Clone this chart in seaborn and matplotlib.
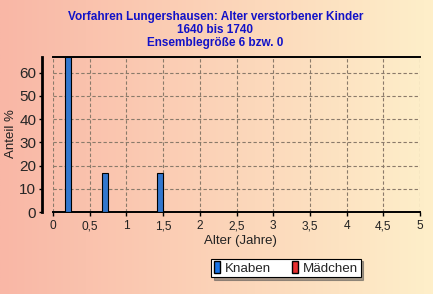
import numpy as np
import pandas as pd
import matplotlib
matplotlib.use("Agg")
import matplotlib.pyplot as plt
import seaborn as sns
from matplotlib.patches import Patch

# Data
ages = [2.5 / 12, 8.5 / 12, 17.5 / 12]
knaben = [66.67, 16.67, 16.67]
maedchen = [0.0, 0.0, 0.0]
x_ticks = [0, 0.5, 1, 1.5, 2, 2.5, 3, 3.5, 4, 4.5, 5]
x_ticklabels = ["0", "0,5", "1", "1,5", "2", "2,5", "3", "3,5", "4", "4,5", "5"]
y_ticks = [0, 10, 20, 30, 40, 50, 60]
title_lines = ["Vorfahren Lungershausen: Alter verstorbener Kinder",
               "1640 bis 1740",
               "Ensemblegröße 6 bzw. 0"]

sns.set_theme(style="white")
plt.rcParams['font.family'] = ['Liberation Sans', 'DejaVu Sans']

fig = plt.figure(figsize=(4.33, 2.94), dpi=100)

# gradient background
bg = fig.add_axes([0, 0, 1, 1], zorder=-10)
bg.axis("off")
nx, ny = 200, 100
xx = np.linspace(0, 1, nx)[None, :]
yy = np.linspace(0, 1, ny)[:, None]
t = np.clip(0.85 * xx + 0.0 * yy, 0, 1)
left = np.array([249, 183, 166]) / 255
right = np.array([255, 249, 208]) / 255
img = left[None, None, :] * (1 - t[..., None]) + right[None, None, :] * t[..., None]
bg.imshow(img, aspect="auto", extent=[0, 1, 0, 1])
bg.set_xlim(0, 1); bg.set_ylim(0, 1)

ax = fig.add_axes([53 / 433, 1 - 212 / 294, (420 - 53) / 433, (212 - 57) / 294])
ax.patch.set_alpha(0)

df = pd.DataFrame({"Alter": ages * 2,
                   "Anteil": knaben + maedchen,
                   "Geschlecht": ["Knaben"] * 3 + ["Mädchen"] * 3})
sns.barplot(data=df, x="Alter", y="Anteil", hue="Geschlecht", native_scale=True,
            dodge=False, width=1 / 6,
            palette={"Knaben": "#1874E8", "Mädchen": "#E83030"},
            edgecolor="black", linewidth=0.8, ax=ax, legend=False, zorder=3)

ax.set_xlim(0, 5)
ax.set_ylim(0, 66.67)
ax.set_xticks(x_ticks)
ax.set_xticklabels(x_ticklabels, fontsize=8.6, color="#222222")
ax.set_yticks(y_ticks)
ax.set_yticklabels([str(v) for v in y_ticks], fontsize=8.6, color="#222222")
ax.grid(True, linestyle=(0, (3, 2)), color="#8a7a6a", linewidth=0.8)
ax.set_axisbelow(True)

for s in ["top", "bottom"]:
    ax.spines[s].set_color("black")
    ax.spines[s].set_linewidth(1.4)
ax.spines["right"].set_visible(False)
ax.spines["left"].set_position(("outward", 8))
ax.spines["left"].set_color("black")
ax.spines["left"].set_linewidth(2)
ax.tick_params(axis="y", which="both", left=True, length=2.5, width=1, color="black", pad=1.5)
ax.tick_params(axis="x", which="both", bottom=True, length=3, width=1, color="black", pad=3)

ax.set_xlabel("Alter (Jahre)", fontsize=9.5, color="#222222")
ax.set_ylabel("Anteil %", fontsize=9.5, color="#222222")
ax.xaxis.set_label_coords((240 - 53) / 367, -(235 - 212) / 155)
ax.yaxis.set_label_coords(-(53 - 17) / 367, (212 - 134) / 155)

for i, line in enumerate(title_lines):
    fig.text(0.497, 1 - (17 + 13 * i) / 294, line, ha="center", va="center",
             fontsize=8.5, fontweight="bold", color="#1212c8")

handles = [Patch(facecolor="#1874E8", edgecolor="black", label="Knaben"),
           Patch(facecolor="#E83030", edgecolor="black", label="Mädchen")]
leg = fig.legend(handles=handles, loc="center", bbox_to_anchor=(286 / 433, 1 - 268 / 294),
                 ncol=2, frameon=True, fancybox=False, shadow=True, fontsize=9.6,
                 handlelength=0.45, handleheight=1.0, handletextpad=0.4, columnspacing=1.5,
                 borderpad=0.2, borderaxespad=0)
leg.get_frame().set_edgecolor("black")
leg.get_frame().set_linewidth(0.8)
leg.get_frame().set_facecolor("white")

fig.savefig("out.png", dpi=100)
